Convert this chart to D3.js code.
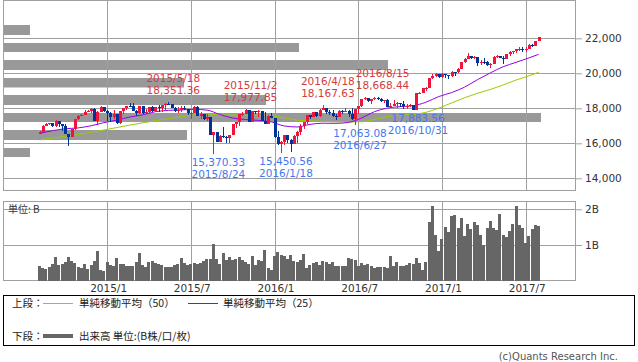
<!DOCTYPE html>
<html>
<head>
<meta charset="utf-8">
<script src="https://cdnjs.cloudflare.com/ajax/libs/d3/7.8.5/d3.min.js"></script>
<style>
  body { margin: 0; background: #fff; }
  svg { display: block; }
</style>
</head>
<body>
<script>
// weekly candles, 2014/8/11 .. 2017/7/31
var opens = [16554,16662,17001,17098,17137,16988,17280,17113,17009,16544,16380,16805,17391,17573,17634,17810,17828,17958,17280,17804,18053,
  17833,17737,17511,17672,17165,17824,18019,18140,18133,17856,17749,18128,17712,17763,18057,17826,18080,18024,18191,18272,18232,18010,17849,17898,18015,17947,17730,17760,18086,17568,17690,17373,17477,16460,16643,16102,16433,16385,16315,16472,17084,17216,17647,17664,17910,17245,17824,17798,17848,17265,17128,17552,
  17425,16346,15988,16093,16466,16205,15974,16392,16640,17007,17213,17602,17516,17793,17577,17898,18004,17774,17740,17535,17501,17873,17807,17865,17675,17400,17949,18147,18516,18571,18432,18544,18577,18553,18395,18492,18085,18124,18261,18308,18240,18138,18145,18161,17888,18848,18868,19152,19171,19757,19843,19934,
  19763,19964,19886,19827,20094,20071,20269,20624,20822,21005,20902,20914,20596,20663,20656,20453,20548,20941,21007,20897,20805,21080,21206,21272,21384,21395,21350,21414,21638,21580,21830];
var highs = [16714,17040,17153,17160,17140,17350,17290,17120,17100,16560,16810,17395,17600,17700,17900,17900,17990,17990,17840,18103,18100,
  17920,17800,17900,17700,17850,18020,18140,18290,18290,17900,18150,18150,17950,18060,18110,18100,18180,18200,18290,18351.36,18250,18100,18050,18120,18140,17950,17800,18130,18130,17800,17700,17650,17500,16650,16650,16450,16930,16400,16500,17100,17220,17650,17800,17977.85,17910,17850,17840,17900,17850,17800,17600,17750,
  17425,16700,16150,16480,16500,16250,16500,16700,17100,17230,17620,17640,17800,17800,17950,18167.63,18040,17900,17880,17700,17880,17900,18000,17900,18000,17950,18150,18550,18620,18600,18550,18640,18668.44,18600,18500,18560,18300,18450,18350,18320,18400,18250,18250,18180,18900,18930,19160,19230,19760,19970,19990,19980,
  19999,19970,19900,20125,20100,20300,20640,20850,21169,21010,21000,20950,20750,20890,20700,20600,21000,21050,21010,21000,21100,21250,21300,21390,21500,21530,21500,21680,21680,21830,22092];
var lows = [16554,16660,16990,17020,16950,16940,16950,16700,16540,15855,16380,16770,17350,17540,17600,17780,17750,17260,17070,17800,17800,
  17260,17240,17400,17100,17100,17680,17900,18090,17850,17580,17700,17670,17700,17700,17810,17800,17800,17780,17890,18200,17990,17800,17730,17780,17890,17590,17400,17750,17560,17400,17330,17290,16460,15370.33,16100,16100,16300,16000,16000,16470,16900,16980,17580,17650,17220,17200,17700,17480,17260,17100,17100,17420,
  16300,15900,15450.56,15900,16000,15500,15970,16000,16500,16800,17100,17400,17500,17480,17500,17880,17700,17600,17500,17330,17490,17700,17800,17500,17350,17063.08,17700,18100,18450,18360,18250,18500,18500,18350,18300,18080,17990,18120,18000,18100,17950,17950,18080,17883.56,17880,18800,18860,19000,19170,19700,19800,19720,
  19760,19750,19680,19800,19830,20000,20250,20600,20800,20800,20800,20400,20500,20550,20400,20330,20540,20900,20850,20550,20800,21000,21100,21150,21300,21200,21200,21400,21500,21550,21820];
var closes = [16662,17001,17098,17137,16988,17280,17113,17009,16544,16380,16805,17391,17573,17634,17810,17828,17958,17280,17804,18053,17833,
  17737,17511,17672,17165,17824,18019,18140,18133,17856,17749,18128,17712,17763,18057,17826,18080,18024,18191,18272,18232,18010,17849,17898,18015,17947,17730,17760,18086,17568,17690,17373,17477,16460,16643,16102,16433,16385,16315,16472,17084,17216,17647,17664,17910,17245,17824,17798,17848,17265,17128,17552,17425,
  16346,15988,16093,16466,16205,15974,16392,16640,17007,17213,17602,17516,17793,17577,17898,18004,17774,17740,17535,17501,17873,17807,17865,17675,17400,17949,18147,18516,18571,18432,18544,18577,18553,18395,18492,18085,18124,18261,18308,18240,18138,18145,18161,17888,18848,18868,19152,19171,19757,19843,19934,19763,
  19964,19886,19827,20094,20071,20269,20624,20822,21005,20902,20914,20596,20663,20656,20453,20548,20941,21007,20897,20805,21080,21206,21272,21384,21395,21350,21414,21638,21580,21830,22092];
// volume, billions of shares
var volumes = [0.40,0.36,0.32,0.37,0.47,0.67,0.43,0.47,0.51,0.67,0.55,0.50,0.38,0.36,0.47,0.33,0.45,0.56,0.84,0.30,0.27,
  0.52,0.44,0.42,0.63,0.48,0.46,0.40,0.42,0.42,0.53,0.77,0.45,0.38,0.53,0.54,0.50,0.48,0.45,0.38,0.38,
  0.38,0.45,0.47,0.63,0.49,0.45,0.48,0.50,0.48,0.50,0.55,0.61,0.62,1.04,0.60,0.48,0.77,0.58,0.65,0.58,
  0.60,0.66,0.57,0.52,0.48,0.70,0.44,0.58,0.55,0.87,0.35,0.30,0.70,0.81,0.71,0.68,0.62,
  0.73,0.54,0.51,0.57,0.75,0.35,0.44,0.49,0.51,0.45,0.54,0.52,0.46,0.51,0.42,0.40,0.40,0.40,0.63,0.60,0.58,0.42,
  0.49,0.44,0.46,0.40,0.35,0.38,0.37,0.38,0.35,0.70,0.41,0.52,0.40,0.42,0.44,0.49,0.48,0.63,0.49,0.30,0.52,
  1.65,2.08,1.29,0.82,1.18,1.51,1.37,1.81,1.83,1.48,1.76,1.26,1.58,1.45,1.65,1.55,1.29,1.01,1.48,1.68,1.48,1.43,1.86,1.29,1.23,1.40,1.58,2.08,1.55,1.48,1.06,1.24,1.45,1.57,1.53];
// moving averages, read every 4th week
var maWeek = [0,4,8,12,16,20,24,28,32,36,40,44,48,52,56,60,64,68,72,76,80,84,88,92,96,100,104,108,112,116,120,124,128,132,136,140,144,148,152,155];
var ma25 = [16570,16720,16830,16880,17000,17180,17331,17499,17622,17806,17881,17908,17939,17897,17648,17444,17359,17308,17224,16991,16933,17082,17148,17139,17196,17443,17806,18009,18095,18146,18346,18671,18899,19210,19635,20021,20376,20626,20880,21083];
var ma50 = [16190,16300,16400,16500,16630,16760,16900,17040,17170,17290,17410,17520,17630,17678,17621,17611,17612,17609,17573,17458,17324,17278,17261,17224,17217,17235,17359,17524,17615,17648,17769,18008,18309,18600,18858,19076,19335,19616,19859,20055];
var peakWeeks = ['2015-05-18','2015-11-02','2016-04-18','2016-08-15'];
var troughWeeks = ['2015-08-24','2016-01-18','2016-06-27','2016-10-31'];
var priceTicks = [14000,16000,18000,20000,22000];
var volTicks = [1,2];

var W = 638, H = 362;
var weeks = d3.timeMonday.range(new Date(2014, 7, 11), new Date(2017, 7, 1));
var iso = d3.timeFormat('%Y-%m-%d');

var x = d3.scaleBand().domain(weeks).range([37.9, 540.2]);
var cx = function(i) { return x(weeks[i]) + x.bandwidth() / 2; };
var y = d3.scaleLinear().domain([14000, 22000]).range([178.3, 38.3]);
var yv = d3.scaleLinear().domain([0, 2]).range([280.7, 209.3]);

var svg = d3.select('body').append('svg').attr('width', W).attr('height', H)
  .style('font-family', '"DejaVu Sans", sans-serif');

// grey blocks on the upper panel
var shade = [[3,25,27,10],[3,43,296,9],[3,60,385,10],[3,78,181,9.5],[3,95,263,10],[3,113,538,9],[3,130,184,10],[3,148,27,9]];
svg.append('g').selectAll('rect').data(shade).enter().append('rect')
  .attr('x', function(d) { return d[0]; }).attr('y', function(d) { return d[1]; })
  .attr('width', function(d) { return d[2]; }).attr('height', function(d) { return d[3]; })
  .style('fill', '#999');

// grid
var monthStarts = weeks.filter(function(d, i) {
  return i > 0 && d.getMonth() !== weeks[i - 1].getMonth() && (d.getMonth() === 0 || d.getMonth() === 6);
});
var grid = svg.append('g').style('stroke', '#a0a0a0').style('stroke-width', 1).style('shape-rendering', 'crispEdges');
grid.selectAll('.hp').data(priceTicks).enter().append('line')
  .attr('x1', 3).attr('x2', 575).attr('y1', function(d) { return Math.round(y(d)) + 0.5; }).attr('y2', function(d) { return Math.round(y(d)) + 0.5; });
grid.selectAll('.hv').data(volTicks).enter().append('line')
  .attr('x1', 3).attr('x2', 575).attr('y1', function(d) { return Math.round(yv(d)) + 0.5; }).attr('y2', function(d) { return Math.round(yv(d)) + 0.5; });
monthStarts.forEach(function(d) {
  var gx = Math.round(x(d) + x.bandwidth() / 2) + 0.5;
  grid.append('line').attr('x1', gx).attr('x2', gx).attr('y1', 0).attr('y2', 190);
  grid.append('line').attr('x1', gx).attr('x2', gx).attr('y1', 202).attr('y2', 281);
});
grid.append('rect').attr('x', 3.5).attr('y', 0.5).attr('width', 572).attr('height', 190).style('fill', 'none');
grid.append('rect').attr('x', 3.5).attr('y', 201.5).attr('width', 572).attr('height', 79).style('fill', 'none');

// axes
var ax = svg.append('g').attr('transform', 'translate(575,0)')
  .call(d3.axisRight(y).tickValues(priceTicks).tickSize(7).tickPadding(3).tickFormat(d3.format(',')));
var axv = svg.append('g').attr('transform', 'translate(575,0)')
  .call(d3.axisRight(yv).tickValues(volTicks).tickSize(7).tickPadding(3).tickFormat(function(d) { return d + 'B'; }));
[ax, axv].forEach(function(a) {
  a.select('.domain').remove();
  a.selectAll('line').style('stroke', '#a0a0a0');
  a.selectAll('text').style('font-family', '"DejaVu Sans", sans-serif').style('font-size', '10.5px').style('fill', '#333');
});

svg.selectAll('.xl').data(monthStarts).enter().append('text')
  .attr('x', function(d) { return x(d) + x.bandwidth() / 2 + 1.5; }).attr('y', 292)
  .attr('text-anchor', 'middle').style('font-size', '10.5px').style('fill', '#333')
  .text(d3.timeFormat('%Y/%-m'));

svg.append('text').attr('x', 8).attr('y', 213).style('font-family', '"Noto Sans CJK JP", sans-serif')
  .style('font-size', '10px').style('fill', '#333').text('単位: B');

// moving averages
var maLine = function(vals) {
  return d3.line().x(function(d, k) { return cx(maWeek[k]); }).y(function(d) { return y(d); })
    .curve(d3.curveMonotoneX)(vals);
};
svg.append('path').attr('d', maLine(ma50)).style('fill', 'none').style('stroke', '#99cc00').style('stroke-width', 1);
svg.append('path').attr('d', maLine(ma25)).style('fill', 'none').style('stroke', '#9900ee').style('stroke-width', 1);

// volume bars
svg.append('g').selectAll('rect').data(volumes).enter().append('rect')
  .attr('x', function(d, i) { return Math.round(cx(i) - 1.5); })
  .attr('width', 3)
  .attr('y', function(d) { return Math.round(yv(d)); })
  .attr('height', function(d) { return 281 - Math.round(yv(d)); })
  .style('fill', '#666').style('shape-rendering', 'crispEdges');

// candles
var up = '#f0143c', down = '#003399';
var candles = svg.append('g').style('shape-rendering', 'crispEdges');
closes.forEach(function(c, i) {
  var o = opens[i], col = c >= o ? up : down;
  var px = Math.round(cx(i));
  candles.append('line').attr('x1', px + 0.5).attr('x2', px + 0.5)
    .attr('y1', y(highs[i])).attr('y2', y(lows[i])).style('stroke', col);
  var top = y(Math.max(o, c)), bot = y(Math.min(o, c));
  candles.append('rect').attr('x', px - 1).attr('width', 3)
    .attr('y', top).attr('height', Math.max(1, bot - top)).style('fill', col);
});

// high / low notes
var fmt = d3.format(',.2f'), dfmt = d3.timeFormat('%Y/%-m/%-d');
var notes = svg.append('g').attr('text-anchor', 'middle').style('font-size', '10.5px');
weeks.forEach(function(d, i) {
  var k = iso(d), tx = cx(i) + 5;
  if (peakWeeks.indexOf(k) >= 0) {
    notes.append('text').attr('x', tx).attr('y', y(highs[i]) - 20).style('fill', '#d43c3c').text(dfmt(d));
    notes.append('text').attr('x', tx).attr('y', y(highs[i]) - 8).style('fill', '#d43c3c').text(fmt(highs[i]));
  }
  if (troughWeeks.indexOf(k) >= 0) {
    notes.append('text').attr('x', tx).attr('y', y(lows[i]) + 12).style('fill', '#4477ee').text(fmt(lows[i]));
    notes.append('text').attr('x', tx).attr('y', y(lows[i]) + 24).style('fill', '#4477ee').text(dfmt(d));
  }
});

// legend
var lg = svg.append('g').style('font-family', '"Noto Sans CJK JP", sans-serif').style('font-size', '10.5px').style('fill', '#222');
lg.append('rect').attr('x', 3.5).attr('y', 295.5).attr('width', 631).attr('height', 50)
  .style('fill', 'none').style('stroke', '#000').style('shape-rendering', 'crispEdges');
lg.append('text').attr('x', 12).attr('y', 307).text('上段：');
lg.append('line').attr('x1', 43).attr('x2', 73).attr('y1', 303.5).attr('y2', 303.5).style('stroke', '#99cc00');
lg.append('text').attr('x', 79).attr('y', 307).text('単純移動平均（50）');
lg.append('line').attr('x1', 188).attr('x2', 218).attr('y1', 303.5).attr('y2', 303.5).style('stroke', '#9900ee');
lg.append('text').attr('x', 223).attr('y', 307).text('単純移動平均（25）');
lg.append('text').attr('x', 12).attr('y', 340).text('下段：');
lg.append('line').attr('x1', 43).attr('x2', 73).attr('y1', 336).attr('y2', 336).style('stroke', '#666').style('stroke-width', 4);
lg.append('text').attr('x', 79).attr('y', 340).text('出来高 単位:(B株/口/枚)');

svg.append('text').attr('x', 618).attr('y', 360).attr('text-anchor', 'end')
  .style('font-size', '10px').style('fill', '#555').text('(c)Quants Research Inc.');
</script>
</body>
</html>
